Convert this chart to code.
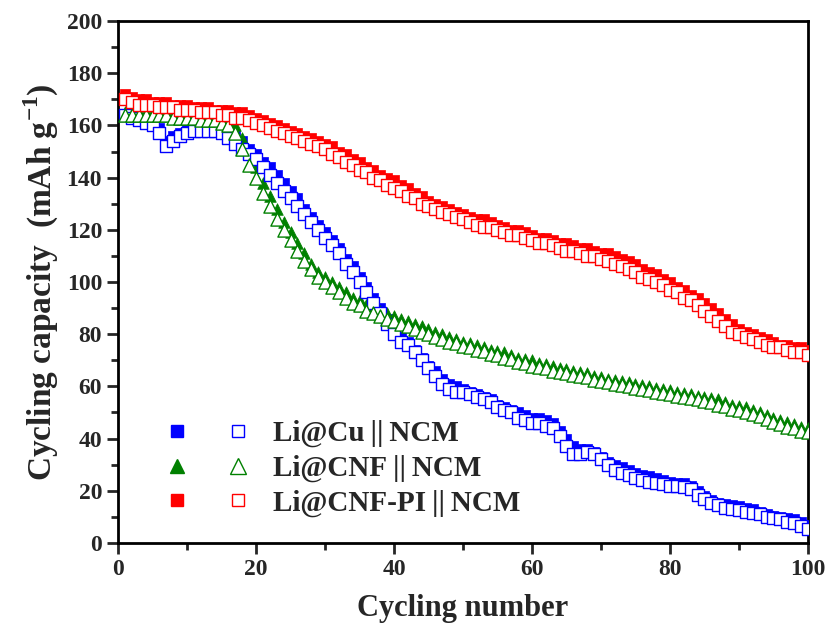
import numpy as np, matplotlib
matplotlib.use("Agg")
import matplotlib.pyplot as plt, seaborn as sns
from matplotlib.lines import Line2D
from matplotlib.legend_handler import HandlerTuple
from matplotlib.ticker import MultipleLocator

sns.set_style("ticks")
plt.rcParams["font.family"] = ["Liberation Serif", "DejaVu Serif"]
plt.rcParams["font.weight"] = "bold"
plt.rcParams["mathtext.fontset"] = "custom"
plt.rcParams["mathtext.rm"] = "Liberation Serif:bold"
plt.rcParams["mathtext.bf"] = "Liberation Serif:bold"

cycles = np.arange(1, 101)

# Li@Cu||NCM
cu_fill = [164,164,163,162,161,159,154,156,157,159, 160,160,160,160,159,158,156,154,151,149,
           146,144,141,138,135,132,128,125,122,119, 116,113,109,106,102,98,94,90,86,81,
           79,77,74,71,68,66,63,61,60,59, 58,57,56,55,53,52,51,50,49,48,
           48,47,46,43,40,37,36,36,35,33, 31,30,29,28,27,26,25.5,25,24,23.5,
           23,23,22,20,18,16.5,15.5,15,14.5,14, 13.5,13,12,11,10.5,10,9.5,9,8,7]
cu_open = [164,163,162,161,160,157,152,154,156,157, 158,158,158,158,157,155,153,151,149,147,
           144,141,138,135,132,129,126,123,120,117, 114,111,107,104,100,96,92,88,84,80,
           77,76,73,70,67,64,61,59,58,58, 57,56,55,54,52,51,50,48,47,46,
           46,45,44,41,37,34,34,35,34,32, 30,28,27,26,25,24,23.5,23,22.5,22,
           22,21.5,20.5,18.5,17,15.5,14.5,13.5,13,12.5, 12,11.5,11,10,9.5,9,8,7.5,6.5,5.5]

# Li@CNF||NCM
cnf_fill = [165,165,165,165,165,165,165,164,164,164, 164,164,163,163,163,162,160,155,149,144,
            138,133,128,123,119,115,111,107,104,102, 100,98,96,94,93,91,90,89,88,87,
            86,85,84,83,82,81,80,79,78,77, 76.5,76,75,74,73.5,73,72,71,70.5,70,
            69,68.5,68,67,66.5,66,65.5,65,64,63.5, 63,62.5,62,61.5,61,60.5,60,59.5,59,58.5,
            58,57.5,57,56.5,56,55.5,55,54,53,52.5, 52,51,50,49,48,47,46.5,45.5,44.5,44]
cnf_open = [164,164,164,164,164,164,164,163,163,163, 163,162,162,162,161,160,157,151,145,140,
            134,129,124,120,116,112,108,105,102,100, 98,96,94,92,91,89,88,87,86,85,
            84,83,82,81,80,79,78,77,76.5,75.5, 75,74,73.5,72.5,72,71,70.5,69.5,69,68,
            67.5,67,66,65.5,65,64.5,64,63.5,62.5,62, 61.5,61,60.5,60,59.5,59,58.5,58,57.5,57,
            56.5,56,55.5,55,54.5,54,53,52.5,51.5,51, 50,49.5,48.5,47.5,46.5,45.5,44.5,44,43,42.5]

# Li@CNF-PI||NCM
pi_fill = [172,171,170,170,169,169,169,168,168,168, 167,167,167,166,166,166,165,165,164,163,
           162,161,160,159,158,157,156,155,154,153, 152,150,149,147,146,144,143,141,140,139,
           137,136,134,133,131,130,129,128,127,126, 125,124,124,123,122,121,120,120,119,118,
           117,117,116,115,115,114,113,113,112,111, 111,110,109,108,107,105,104,103,101,100,
           98,97,95,94,92,90,88,86,84,82, 81,80,79,78,77,76,76,75,75,74]
pi_open = [170,169,168,168,168,167,167,167,166,166, 166,165,165,165,164,164,163,163,162,161,
           160,159,158,157,156,155,154,153,152,151, 149,148,146,145,143,142,140,139,137,136,
           135,133,132,130,129,128,127,126,125,124, 123,122,121,121,120,119,118,118,117,116,
           115,115,114,113,112,112,111,110,110,109, 108,107,106,105,104,102,101,100,99,97,
           96,94,93,91,89,87,85,83,81,80, 79,78,77,76,75,75,74,73,73,72]

labels = ["Li@Cu\u2009||\u2009NCM", "Li@CNF\u2009||\u2009NCM", "Li@CNF-PI\u2009||\u2009NCM"]
colors = ["#0000FF", "#008000", "#FF0000"]
markers = ["s", "^", "s"]
fills = [cu_fill, cnf_fill, pi_fill]
opens = [cu_open, cnf_open, pi_open]

fig = plt.figure(figsize=(8.27, 6.37), dpi=100)
ax = fig.add_axes([0.1427, 0.1476, 0.8343, 0.8194])

for f, c, m in zip(fills, colors, markers):
    sns.scatterplot(x=cycles, y=f, marker=m, color=c, edgecolor=c, linewidth=0.5,
                    s=50 if m == "s" else 70, ax=ax, zorder=3)
for o, c, m in zip(opens, colors, markers):
    sns.scatterplot(x=cycles, y=o, marker=m, color="white", edgecolor=c, linewidth=1.0,
                    s=80 if m == "s" else 90, ax=ax, zorder=4)

ax.set_xlim(0, 100); ax.set_ylim(0, 200)
ax.xaxis.set_major_locator(MultipleLocator(20)); ax.xaxis.set_minor_locator(MultipleLocator(10))
ax.yaxis.set_major_locator(MultipleLocator(20)); ax.yaxis.set_minor_locator(MultipleLocator(10))
ax.tick_params(which="major", direction="out", length=8, width=2, labelsize=17, top=False, right=False)
ax.tick_params(which="minor", direction="out", length=5, width=2, top=False, right=False)
for lab in ax.get_xticklabels() + ax.get_yticklabels(): lab.set_fontweight("bold")
for sp in ax.spines.values(): sp.set_visible(True); sp.set_linewidth(2); sp.set_color("black")

ax.set_xlabel("Cycling number", fontsize=22, fontweight="bold", labelpad=10)
ax.set_ylabel("Cycling capacity  (mAh g$^{-1}$)", fontsize=24, fontweight="bold", labelpad=4)

handles = []
for c, m in zip(colors, markers):
    h1 = Line2D([], [], marker=m, ls="none", color=c, markerfacecolor=c, markeredgecolor=c, markersize=8 if m == "s" else 10)
    h2 = Line2D([], [], marker=m, ls="none", color=c, markerfacecolor="white", markeredgecolor=c, markeredgewidth=1, markersize=9 if m == "s" else 11)
    handles.append((h1, h2))
ax.legend(handles, labels, handler_map={tuple: HandlerTuple(ndivide=None, pad=0)},
          loc="lower left", bbox_to_anchor=(0.0245, 0.028), borderaxespad=0, frameon=False,
          prop={"family": "Liberation Serif", "weight": "bold", "size": 21},
          handlelength=4.2, handletextpad=0.15, labelspacing=0.25)

fig.savefig("out.png", dpi=100)
